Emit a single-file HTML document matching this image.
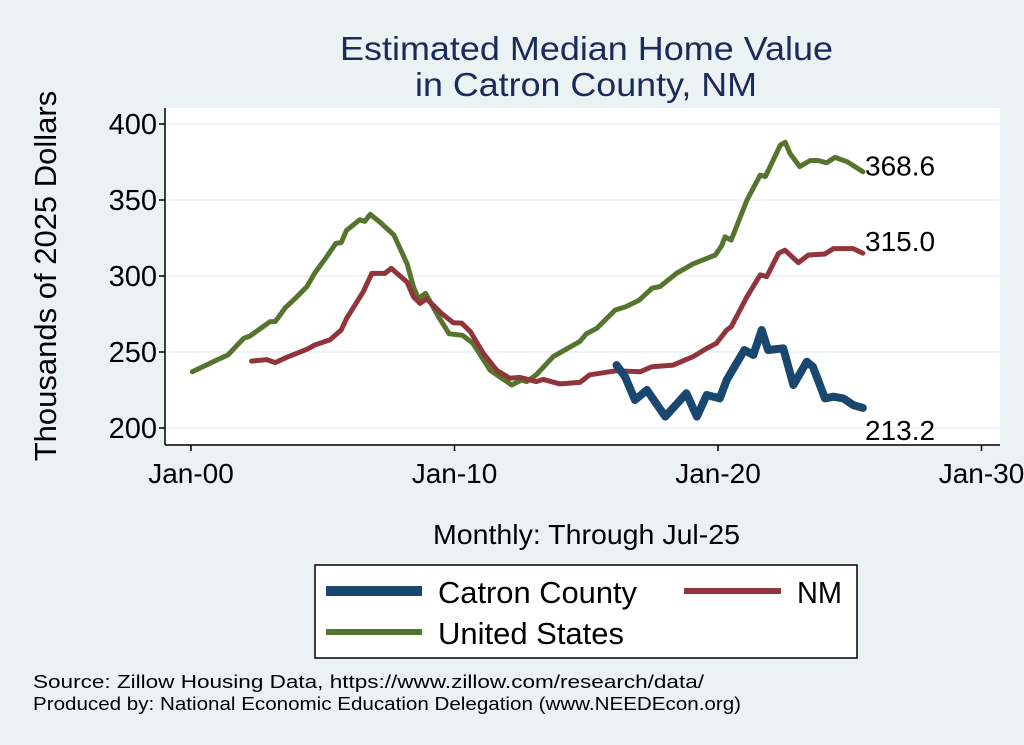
<!DOCTYPE html>
<html><head><meta charset="utf-8">
<style>
body{margin:0;background:#eaf2f3;}
svg{display:block;font-family:"Liberation Sans",sans-serif;}
</style></head>
<body>
<svg id="chart" width="1024" height="745" viewBox="0 0 1024 745" xmlns="http://www.w3.org/2000/svg">
<rect width="1024" height="745" fill="#eaf2f3"/>
<text x="340" y="60" textLength="493" lengthAdjust="spacingAndGlyphs" font-size="33" fill="#1a2a5a">Estimated Median Home Value</text>
<text x="415" y="96" textLength="342" lengthAdjust="spacingAndGlyphs" font-size="33" fill="#1a2a5a">in Catron County, NM</text>
<rect x="165" y="108" width="835" height="337" fill="#ffffff"/>
<g id="grid"></g>
<g id="axes"></g>
<g id="series"></g>
<text x="56" y="276" transform="rotate(-90 56 276)" text-anchor="middle" font-size="31" fill="#000">Thousands of 2025 Dollars</text>
<text x="433" y="544" textLength="307" lengthAdjust="spacingAndGlyphs" font-size="28" fill="#000">Monthly: Through Jul-25</text>
<g>
<rect x="315" y="565" width="542" height="93" fill="#fff" stroke="#000" stroke-width="1.5"/>
<line x1="326" y1="591" x2="422" y2="591" stroke="#1a476f" stroke-width="10"/>
<text x="438" y="603" textLength="199" lengthAdjust="spacingAndGlyphs" font-size="31">Catron County</text>
<line x1="684" y1="591" x2="781" y2="591" stroke="#90353b" stroke-width="6"/>
<text x="797" y="603" textLength="45" lengthAdjust="spacingAndGlyphs" font-size="31">NM</text>
<line x1="326" y1="632" x2="422" y2="632" stroke="#55752f" stroke-width="6"/>
<text x="438" y="644" textLength="186" lengthAdjust="spacingAndGlyphs" font-size="31">United States</text>
</g>
<text x="33" y="688" textLength="671" lengthAdjust="spacingAndGlyphs" font-size="18">Source: Zillow Housing Data, https://www.zillow.com/research/data/</text>
<text x="33" y="710" textLength="708" lengthAdjust="spacingAndGlyphs" font-size="18">Produced by: National Economic Education Delegation (www.NEEDEcon.org)</text>
</svg>
<script>
const yTicks=[200,250,300,350,400];
const xTicks=[2000,2010,2020,2030];
const xTickLabels=["Jan-00","Jan-10","Jan-20","Jan-30"];
const usDates=[2000.05,2000.97,2001.4,2002.0,2002.24,2003.0,2003.2,2003.57,2004.0,2004.4,2004.7,2005.15,2005.5,2005.7,2005.9,2006.4,2006.6,2006.8,2007.2,2007.7,2008.2,2008.44,2008.63,2008.9,2009.4,2009.8,2010.3,2010.7,2011.35,2012.17,2012.55,2012.74,2013.1,2013.75,2014.76,2015.0,2015.4,2016.1,2016.5,2017.0,2017.5,2017.8,2018.43,2019.06,2019.57,2019.9,2020.14,2020.27,2020.5,2021.1,2021.6,2021.8,2022.36,2022.55,2022.73,2023.1,2023.5,2023.8,2024.12,2024.44,2024.9,2025.5];
const usValues=[237,244.7,248,259,260.5,270,270,279,286,293,302,312.7,321.5,322,330,337,336,340.6,335,327,308,293,285,288.6,273,262,261,255.7,238,228.3,231.6,230.5,235,247,257,262,265.6,277.6,279.8,284,292,293,301.8,308,311.6,313.8,320,325.8,323.6,350,366.4,365.4,386,388,380.7,372,376,376,374.5,378,375.2,368.6];
const nmDates=[2002.3,2002.87,2003.2,2003.63,2004.4,2004.7,2005.28,2005.7,2005.9,2006.54,2006.86,2007.36,2007.6,2008.2,2008.44,2008.7,2008.94,2009.5,2009.95,2010.27,2010.6,2011.1,2011.6,2012.1,2012.48,2013.1,2013.37,2014.0,2014.76,2015.14,2016.15,2017.04,2017.5,2018.3,2019.06,2019.57,2019.94,2020.33,2020.5,2021.1,2021.6,2021.85,2022.3,2022.54,2023.05,2023.43,2024.06,2024.38,2025.13,2025.5];
const nmValues=[244,245,243,246.5,251.8,254.6,258,264.5,272,289.7,301.7,301.7,305,296,286.3,282,285,275.5,269.3,269,263.4,249,238,232.7,233.3,230.5,232,229,230,235,237.7,237,240.3,241.4,247,252.4,255.7,264.5,266.6,286.4,300.7,299.6,315,317,308.8,313.8,314.5,318,318,315];
const catDates=[2016.15,2016.47,2016.85,2017.3,2018.0,2018.8,2019.2,2019.57,2020.07,2020.33,2021.0,2021.34,2021.66,2021.9,2022.48,2022.86,2023.37,2023.6,2024.06,2024.38,2024.76,2025.14,2025.5];
const catValues=[241.4,233.8,218.4,225,207.5,222.8,207.5,221.7,219.5,231.6,251.3,248,264.5,251.3,252.4,228.3,243.6,240.3,219.5,220.6,219.5,215,213.2];
const endLabels=["213.2","315.0","368.6"];

const NS="http://www.w3.org/2000/svg";
const xS=d=>191+(d-2000)*26.35;
const yS=v=>428-(v-200)*1.52;
function mk(tag,attrs,parent){const e=document.createElementNS(NS,tag);for(const k in attrs)e.setAttribute(k,attrs[k]);parent.appendChild(e);return e;}
const grid=document.getElementById('grid'),axes=document.getElementById('axes'),ser=document.getElementById('series');
yTicks.forEach(v=>{
  const g=mk('line',{x1:165,x2:1000,y1:yS(v),y2:yS(v),stroke:'#eaf2f3','stroke-width':1.5},grid);
  
  
  const t=mk('line',{x1:159,x2:165,y1:yS(v),y2:yS(v),stroke:'#000','stroke-width':1.5},axes);
  
  
  const l=mk('text',{x:157,y:yS(v)+10,'text-anchor':'end','font-size':29},axes);
  l.textContent=v;
  
  
});
xTicks.forEach((d,i)=>{
  const t=mk('line',{x1:xS(d),x2:xS(d),y1:445,y2:451,stroke:'#000','stroke-width':1.5},axes);
  
  
  const l=mk('text',{x:xS(d),y:483,'text-anchor':'middle','font-size':28},axes);
  l.textContent=xTickLabels[i];
  
  
});
const ya=mk('line',{x1:165,x2:165,y1:108,y2:445,stroke:'#000','stroke-width':1.5},axes);


const xa=mk('line',{x1:165,x2:1000,y1:445,y2:445,stroke:'#000','stroke-width':1.5},axes);


function line(dates,vals,color,w,name){
  const d=dates.map((x,i)=>(i?'L':'M')+xS(x).toFixed(1)+','+yS(vals[i]).toFixed(1)).join('');
  const p=mk('path',{d:d,fill:'none',stroke:color,'stroke-width':w,'stroke-linejoin':'round','stroke-linecap':'round'},ser);
  
  
}
line(usDates,usValues,'#55752f',5,'series-united-states');
line(nmDates,nmValues,'#90353b',5,'series-nm');
line(catDates,catValues,'#1a476f',8,'series-catron-county');
const ends=[[catDates,catValues,22],[nmDates,nmValues,-12],[usDates,usValues,-6]];
ends.forEach((e,i)=>{
  const n=e[0].length-1;
  const t=mk('text',{x:865,y:yS(e[1][n])+e[2]+10,'font-size':28},ser);
  t.textContent=endLabels[i];
  
  
});
</script>
</body></html>
